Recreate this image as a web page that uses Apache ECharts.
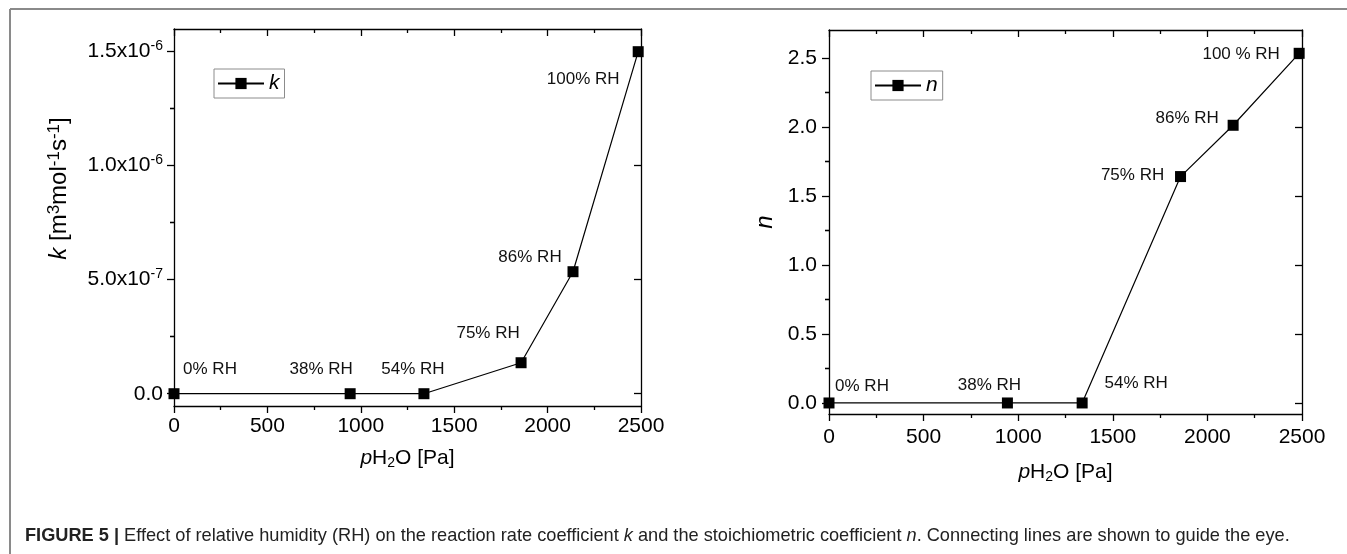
<!DOCTYPE html>
<html>
<head>
<meta charset="utf-8">
<script src="https://cdn.jsdelivr.net/npm/echarts@6/dist/echarts.min.js"></script>
<style>
html,body{margin:0;padding:0;background:#fff;}
#c{width:1347px;height:554px;}
</style>
</head>
<body>
<div id="c"></div>
<script>
// ---- data ----
const pH2O = [0, 943, 1338, 1858, 2136, 2485];
const kValues = [0, 0, 0, 0.1356e-6, 0.534e-6, 1.497e-6];
const nValues = [0, 0, 0, 1.642, 2.014, 2.536];
const kLabels = ['0% RH', '38% RH', '54% RH', '75% RH', '86% RH', '100% RH'];
const nLabels = ['0% RH', '38% RH', '54% RH', '75% RH', '86% RH', '100 % RH'];
const xTicks = [0, 500, 1000, 1500, 2000, 2500];
const xTickLabels = ['0', '500', '1000', '1500', '2000', '2500'];
const kTicks = [0, 0.5e-6, 1.0e-6, 1.5e-6];
const kTickLabels = ['0.0', '5.0x10{sup|-7}', '1.0x10{sup|-6}', '1.5x10{sup|-6}'];
const kMinorTicks = [0.25e-6, 0.75e-6, 1.25e-6];
const nTicks = [0, 0.5, 1.0, 1.5, 2.0, 2.5];
const nTickLabels = ['0.0', '0.5', '1.0', '1.5', '2.0', '2.5'];
const nMinorTicks = [0.25, 0.75, 1.25, 1.75, 2.25];

// ---- styles ----
const FONT = 'Liberation Sans, Arial, sans-serif';
const kOffsets = [[36, -24], [-29, -24], [-11, -24], [-33, -29], [-43, -14], [-55, 28]];
const nOffsets = [[33, -17], [-18, -18], [54, -20], [-48, -1], [-46, -7], [-58, 1]];
const AX = { color: '#000', width: 1.3 };
const supRich = {
  sup: { fontSize: 14, verticalAlign: 'top', lineHeight: 14, fontFamily: FONT, color: '#000' },
  sub: { fontSize: 14, verticalAlign: 'bottom', lineHeight: 14, fontFamily: FONT, color: '#000' },
  i: { fontStyle: 'italic', fontSize: 21, fontFamily: FONT, color: '#000' }
};
const titleRich = {
  sup: { fontSize: 17, verticalAlign: 'top', lineHeight: 16, fontFamily: FONT, color: '#000' },
  i: { fontStyle: 'italic', fontSize: 24, fontFamily: FONT, color: '#000' }
};

function labelFor(ticks, labels) {
  return function (v) {
    for (let i = 0; i < ticks.length; i++) {
      if (Math.abs(v - ticks[i]) < Math.abs(ticks[1] - ticks[0]) * 1e-3) return labels[i];
    }
    return '';
  };
}

function xAxesFor(gridIndex, nameGap, labelMargin) {
  return [
    {
      gridIndex, type: 'value', position: 'bottom', min: 0, max: 2500, interval: 500,
      axisLine: { show: true, onZero: false, lineStyle: AX },
      axisTick: { show: true, inside: false, length: 7, lineStyle: AX },
      minorTick: { show: true, splitNumber: 2, length: 4, lineStyle: AX },
      splitLine: { show: false },
      axisLabel: { fontSize: 21, color: '#000', fontFamily: FONT, margin: labelMargin,
        formatter: labelFor(xTicks, xTickLabels) },
      name: '{i|p}H{sub|2}O [Pa]', nameLocation: 'middle', nameGap: nameGap,
      nameTextStyle: { fontSize: 21, color: '#000', fontFamily: FONT, lineHeight: 24, rich: supRich }
    },
    {
      gridIndex, type: 'value', position: 'top', min: 0, max: 2500, interval: 500,
      axisLine: { show: true, onZero: false, lineStyle: AX },
      axisTick: { show: true, inside: true, length: 7, lineStyle: AX },
      minorTick: { show: true, splitNumber: 2, length: 4, lineStyle: AX },
      splitLine: { show: false },
      axisLabel: { show: false }
    }
  ];
}

function yAxesFor(gridIndex, min, max, ticks, minor, labels, name, nameGap, namePadding, labelMargin) {
  const base = { gridIndex, type: 'value', min, max, splitLine: { show: false } };
  return [
    Object.assign({}, base, {
      position: 'left',
      axisLine: { show: true, onZero: false, lineStyle: AX },
      axisTick: { show: true, inside: false, length: 7, lineStyle: AX, customValues: ticks },
      axisLabel: {
        customValues: ticks, fontSize: 21, color: '#000', fontFamily: FONT, margin: labelMargin,
        lineHeight: 24, formatter: labelFor(ticks, labels), rich: supRich
      },
      name, nameLocation: 'middle', nameGap, nameRotate: 90,
      nameTextStyle: { fontSize: 24, color: '#000', fontFamily: FONT, lineHeight: 26, padding: namePadding, rich: titleRich }
    }),
    Object.assign({}, base, {
      position: 'left',
      axisLine: { show: false },
      axisTick: { show: true, inside: false, length: 4, lineStyle: AX, customValues: minor },
      axisLabel: { show: false }
    }),
    Object.assign({}, base, {
      position: 'right',
      axisLine: { show: true, onZero: false, lineStyle: AX },
      axisTick: { show: true, inside: true, length: 7, lineStyle: AX, customValues: ticks },
      axisLabel: { show: false }
    }),
    Object.assign({}, base, {
      position: 'right',
      axisLine: { show: false },
      axisTick: { show: true, inside: true, length: 4, lineStyle: AX, customValues: minor },
      axisLabel: { show: false }
    })
  ];
}

function seriesFor(name, xi, yi, values, labels, offsets) {
  return {
    type: 'line', name, xAxisIndex: xi, yAxisIndex: yi,
    data: pH2O.map((x, i) => ({ value: [x, values[i]], label: { offset: offsets[i] } })),
    symbol: 'rect', symbolSize: 11, clip: false,
    itemStyle: { color: '#000' },
    lineStyle: { color: '#000', width: 1.2 },
    label: {
      show: true, position: 'inside', color: '#111', fontSize: 17, fontFamily: FONT,
      formatter: p => labels[p.dataIndex]
    },
    emphasis: { disabled: true },
    animation: false
  };
}

const legendBase = {
  orient: 'horizontal', itemWidth: 46, itemHeight: 14, itemGap: 0,
  borderColor: '#8c8c8c', borderWidth: 1, borderRadius: 0, padding: [3, 5, 3, 3],
  textStyle: { fontSize: 21, fontStyle: 'italic', color: '#000', fontFamily: FONT, lineHeight: 23 },
  selectedMode: false
};

const CAPFONT = 'Liberation Sans Narrow, Liberation Sans, Arial';
const option = {
  animation: false,
  backgroundColor: '#fff',
  title: {
    left: 20, top: 522,
    text: '{b|FIGURE 5 |} Effect of relative humidity (RH) on the reaction rate coefficient {i|k} and the stoichiometric coefficient {i|n}. Connecting lines are shown to guide the eye.',
    textStyle: {
      fontSize: 18.2, fontWeight: 'normal', color: '#222', fontFamily: CAPFONT,
      rich: {
        b: { fontSize: 18.2, fontWeight: 'bold', color: '#222', fontFamily: CAPFONT },
        i: { fontSize: 18.2, fontStyle: 'italic', color: '#222', fontFamily: CAPFONT }
      }
    }
  },
  legend: [
    Object.assign({ data: ['k'], left: 214, top: 69 }, legendBase),
    Object.assign({ data: ['n'], left: 871, top: 71 }, legendBase)
  ],
  grid: [
    { left: 174, top: 29, width: 467, height: 377 },
    { left: 829, top: 30, width: 473, height: 384 }
  ],
  xAxis: [].concat(xAxesFor(0, 40, 10), xAxesFor(1, 46, 13)),
  yAxis: [].concat(
    yAxesFor(0, -0.0538e-6, 1.5963e-6, kTicks, kMinorTicks, kTickLabels,
      '{i|k} [m{sup|3}mol{sup|-1}s{sup|-1}]', 102, [0, 0, 0, 58], 11),
    yAxesFor(1, -0.08, 2.705, nTicks, nMinorTicks, nTickLabels, '{i|n}', 51, 0, 12)
  ),
  series: [
    seriesFor('k', 0, 0, kValues, kLabels, kOffsets),
    seriesFor('n', 2, 4, nValues, nLabels, nOffsets)
  ],
  graphic: [
    { type: 'line', shape: { x1: 10, y1: 9, x2: 1347, y2: 9 }, style: { stroke: '#8a8a8a', lineWidth: 2 }, silent: true },
    { type: 'line', shape: { x1: 10, y1: 9, x2: 10, y2: 554 }, style: { stroke: '#8a8a8a', lineWidth: 2 }, silent: true }
  ]
};

const chart = echarts.init(document.getElementById('c'), null, { renderer: 'canvas' });
chart.setOption(option);
</script>
</body>
</html>
